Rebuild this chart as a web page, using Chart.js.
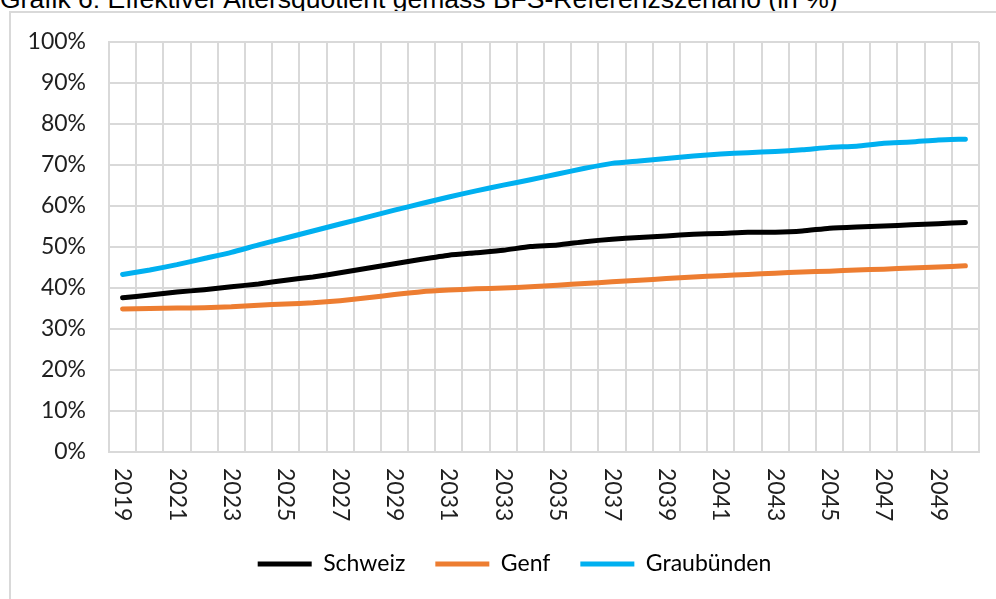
<!DOCTYPE html>
<html>
<head>
<meta charset="utf-8">
<script src="https://cdn.jsdelivr.net/npm/chart.js@4"></script>
<style>
  html, body { margin: 0; padding: 0; background: #fff; overflow: hidden; }
  #wrap { position: relative; width: 996px; height: 599px; overflow: hidden; }
  #frame { position: absolute; left: 9px; top: 11px; width: 1100px; height: 700px;
    border-left: 2px solid #d9d9d9; border-top: 2px solid #d9d9d9; }
  #title { position: absolute; left: 0; top: -14px; font: 26.5px "Liberation Sans", Arial, sans-serif;
    line-height: 1; color: #000; white-space: nowrap; }
  #box { position: absolute; left: 0; top: 0; width: 996px; height: 599px; }
</style>
</head>
<body>
<div id="wrap">
  <div id="title">Grafik 6: Effektiver Altersquotient gemäss BFS-Referenzszenario (in %)</div>
  <div id="frame"></div>
  <div id="box"><canvas id="alters-chart"></canvas></div>
</div>
<script>
const years = [
	"2019", "2020", "2021", "2022", "2023", "2024", "2025", "2026", "2027", "2028",
	"2029", "2030", "2031", "2032", "2033", "2034", "2035", "2036", "2037", "2038",
	"2039", "2040", "2041", "2042", "2043", "2044", "2045", "2046", "2047", "2048",
	"2049", "2050",
];

const schweiz = [
	37.6, 38.3, 39.0, 39.6, 40.3, 41.0, 41.9, 42.7, 43.7, 44.8,
	45.9, 47.0, 48.0, 48.6, 49.2, 50.1, 50.5, 51.3, 51.9, 52.3,
	52.7, 53.1, 53.3, 53.6, 53.6, 53.9, 54.6, 54.9, 55.1, 55.4,
	55.7, 56.0,
];

const genf = [
	34.9, 35.0, 35.1, 35.2, 35.4, 35.8, 36.1, 36.4, 36.9, 37.6,
	38.4, 39.1, 39.5, 39.8, 40.0, 40.3, 40.7, 41.1, 41.5, 41.9,
	42.3, 42.7, 43.0, 43.3, 43.6, 43.9, 44.1, 44.4, 44.6, 44.9,
	45.1, 45.4,
];

const graubuenden = [
	43.3, 44.4, 45.7, 47.2, 48.7, 50.5, 52.2, 53.9, 55.6, 57.3,
	59.0, 60.6, 62.2, 63.7, 65.1, 66.4, 67.8, 69.2, 70.4, 71.0,
	71.6, 72.2, 72.7, 73.0, 73.3, 73.7, 74.3, 74.6, 75.3, 75.6,
	76.1, 76.3,
];

const seriesNames = ["Schweiz", "Genf", "Graubünden"];
const seriesColors = ["#000000", "#ed7d31", "#00b0f0"];

const gridColor = "#d9d9d9";
const textColor = "#1f1f1f";
const labelFont = { family: "Lato", size: 23 };

const makeDataset = (name, values, color) => ({
	label: name,
	data: values,
	borderColor: color,
	backgroundColor: color,
	borderWidth: 5,
	borderCapStyle: "round",
	borderJoinStyle: "round",
	pointRadius: 0,
	tension: 0.2,
});

// x labels are drawn rotated clockwise (reading downwards), every second year
const yearLabels = {
	id: "yearLabels",
	afterDraw(chart) {
		const { ctx, scales: { x } } = chart;
		ctx.save();
		ctx.fillStyle = textColor;
		ctx.font = labelFont.size + "px " + labelFont.family;
		ctx.textAlign = "left";
		ctx.textBaseline = "middle";
		years.forEach((yr, i) => {
			if (i % 2 !== 0) return;
			ctx.save();
			ctx.translate(x.getPixelForValue(i), x.top + 16);
			ctx.rotate(Math.PI / 2);
			ctx.fillText(yr, 0, 0);
			ctx.restore();
		});
		ctx.restore();
	},
};

// legend row sits a bit right of the chart centre in the original
const legendShift = {
	id: "legendShift",
	afterLayout(chart) {
		if (chart.legend) chart.legend.left += 50;
	},
};

const altersChart = new Chart(document.getElementById("alters-chart"), {
	type: "line",
	data: {
		labels: years,
		datasets: [
			makeDataset(seriesNames[0], schweiz, seriesColors[0]),
			makeDataset(seriesNames[1], genf, seriesColors[1]),
			makeDataset(seriesNames[2], graubuenden, seriesColors[2]),
		],
	},
	options: {
		responsive: true,
		maintainAspectRatio: false,
		animation: false,
		devicePixelRatio: 1,
		layout: {
			padding: { top: 42, right: 17, left: 0, bottom: 13.5 },
		},
		scales: {
			x: {
				offset: true,
				grid: { offset: true, color: gridColor, lineWidth: 2, drawTicks: false },
				border: { color: gridColor, width: 2 },
				ticks: { display: false },
				afterFit: (scale) => { scale.height = 70.5; },
			},
			y: {
				min: 0,
				max: 100,
				grid: { color: gridColor, lineWidth: 2, drawTicks: false },
				border: { color: gridColor, width: 2 },
				ticks: {
					stepSize: 10,
					padding: 23,
					color: textColor,
					font: labelFont,
					callback: (v) => v + "%",
				},
				afterFit: (scale) => { scale.width = 109; },
			},
		},
		plugins: {
			legend: {
				position: "bottom",
				labels: {
					usePointStyle: true,
					pointStyle: "line",
					pointStyleWidth: 54,
					padding: 30,
					color: "#000",
					font: labelFont,
				},
			},
			tooltip: { enabled: false },
		},
	},
	plugins: [yearLabels, legendShift],
});
</script>
</body>
</html>
